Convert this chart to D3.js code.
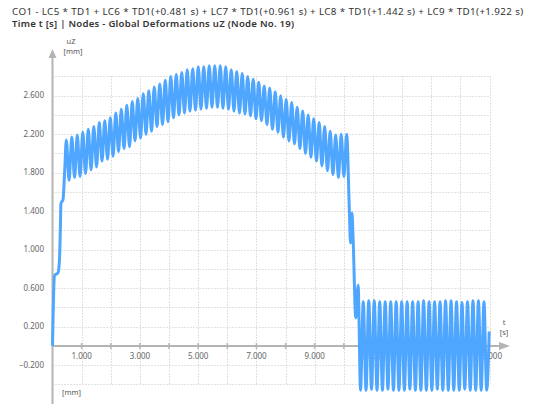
<!DOCTYPE html>
<html>
<head>
<meta charset="utf-8">
<script src="https://cdn.jsdelivr.net/npm/d3@7"></script>
<style>
  body { margin: 0; background: #fff; }
  svg { display: block; font-family: "Noto Sans", sans-serif; }
</style>
</head>
<body>
<div id="chart"></div>
<script>
const width = 533;
const height = 404;

const titleLines = [
  "CO1 - LC5 * TD1 + LC6 * TD1(+0.481 s) + LC7 * TD1(+0.961 s) + LC8 * TD1(+1.442 s) + LC9 * TD1(+1.922 s)",
  "Time t [s] | Nodes - Global Deformations uZ (Node No. 19)"
];

// tick labels and grid positions
const xTickLabels = [1, 3, 5, 7, 9, 11, 13, 15];
const yTickLabels = [-0.2, 0.2, 0.6, 1.0, 1.4, 1.8, 2.2, 2.6];
const xGrid = [1, 2, 3, 4, 5, 6, 7, 8, 9, 10, 11, 12, 13, 14, 15];
const yGrid = [-0.4, -0.2, 0.2, 0.4, 0.6, 0.8, 1.0, 1.2, 1.4, 1.6, 1.8, 2.0, 2.2, 2.4, 2.6, 2.8];

// series: [t (s), uZ (mm)]
const rise = [
  [0.000, 0.00], [0.07, 0.73], [0.19, 0.76], [0.24, 0.90], [0.27, 1.22],
  [0.29, 1.48], [0.36, 1.52], [0.42, 1.83]
];

const swing1 = [
  [0.474, 2.14], [0.568, 1.72], [0.663, 2.17], [0.757, 1.75], [0.851, 2.19], [0.945, 1.76],
  [1.040, 2.22], [1.134, 1.79], [1.229, 2.25], [1.323, 1.83], [1.418, 2.28], [1.512, 1.86],
  [1.606, 2.32], [1.700, 1.92], [1.795, 2.34], [1.889, 1.94], [1.984, 2.37], [2.078, 1.97],
  [2.172, 2.42], [2.266, 2.02], [2.361, 2.46], [2.455, 2.05], [2.550, 2.50], [2.644, 2.07],
  [2.738, 2.54], [2.832, 2.13], [2.927, 2.57], [3.021, 2.16], [3.116, 2.62], [3.210, 2.20],
  [3.305, 2.65], [3.399, 2.23], [3.493, 2.69], [3.587, 2.28], [3.682, 2.72], [3.776, 2.30],
  [3.871, 2.76], [3.965, 2.33], [4.059, 2.80], [4.153, 2.37], [4.248, 2.82], [4.342, 2.40],
  [4.437, 2.84], [4.531, 2.42], [4.625, 2.87], [4.719, 2.44], [4.814, 2.88], [4.908, 2.45],
  [5.003, 2.90], [5.097, 2.46], [5.192, 2.90], [5.286, 2.47], [5.380, 2.91], [5.474, 2.48],
  [5.569, 2.91], [5.663, 2.48], [5.758, 2.91], [5.852, 2.47], [5.946, 2.90], [6.040, 2.46],
  [6.135, 2.87], [6.229, 2.44], [6.324, 2.85], [6.418, 2.42], [6.512, 2.83], [6.606, 2.41],
  [6.701, 2.80], [6.795, 2.39], [6.890, 2.77], [6.984, 2.36], [7.079, 2.74], [7.173, 2.34],
  [7.267, 2.70], [7.361, 2.30], [7.456, 2.68], [7.550, 2.25], [7.645, 2.64], [7.739, 2.22],
  [7.833, 2.60], [7.927, 2.17], [8.022, 2.56], [8.116, 2.13], [8.211, 2.53], [8.305, 2.10],
  [8.399, 2.48], [8.493, 2.05], [8.588, 2.44], [8.682, 2.00], [8.777, 2.40], [8.871, 1.96],
  [8.966, 2.36], [9.060, 1.92], [9.154, 2.32], [9.248, 1.87], [9.343, 2.28], [9.437, 1.82],
  [9.532, 2.23], [9.626, 1.78], [9.720, 2.19], [9.814, 1.75], [9.909, 2.20], [10.003, 1.76],
  [10.098, 2.20]
];

const drop = [
  [10.19, 1.40], [10.23, 1.07], [10.28, 1.38], [10.32, 1.10], [10.41, 0.29], [10.49, 0.63]
];

const swing2 = [
  [10.573, -0.46],
  [10.667, 0.46], [10.761, -0.46], [10.855, 0.47], [10.949, -0.45], [11.044, 0.47], [11.138, -0.46],
  [11.232, 0.46], [11.326, -0.46], [11.420, 0.46], [11.514, -0.45], [11.609, 0.46], [11.703, -0.46],
  [11.797, 0.46], [11.891, -0.46], [11.985, 0.46], [12.079, -0.46], [12.173, 0.46], [12.267, -0.45],
  [12.362, 0.46], [12.456, -0.46], [12.550, 0.46], [12.644, -0.46], [12.738, 0.47], [12.832, -0.46],
  [12.927, 0.46], [13.021, -0.46], [13.115, 0.46], [13.209, -0.45], [13.303, 0.46], [13.397, -0.46],
  [13.492, 0.47], [13.586, -0.46], [13.680, 0.47], [13.774, -0.46], [13.868, 0.46], [13.962, -0.46],
  [14.056, 0.45], [14.150, -0.45], [14.245, 0.46], [14.339, -0.46], [14.433, 0.47], [14.527, -0.46],
  [14.621, 0.47], [14.715, -0.46], [14.810, 0.46], [14.904, -0.46],
  [14.990, 0.15]
];

const series = rise.concat(swing1, drop, swing2);

const x = d3.scaleLinear().domain([0, 15]).range([52.5, 489.5]);
const y = d3.scaleLinear().domain([-0.4, 2.8]).range([384.4, 76.4]);

const svg = d3.select("#chart")
  .append("svg")
  .attr("width", width)
  .attr("height", height);

// title
svg.append("g")
  .selectAll("text")
  .data(titleLines)
  .enter()
  .append("text")
  .attr("x", 12)
  .attr("y", (d, i) => 15 + i * 12)
  .attr("font-size", (d, i) => i === 0 ? 9.8 : 9.6)
  .attr("letter-spacing", (d, i) => i === 0 ? 0.38 : 0.25)
  .attr("font-weight", (d, i) => i === 1 ? 600 : 400)
  .attr("fill", "#333")
  .text(d => d);

// grid
const grid = svg.append("g")
  .attr("stroke", "#c4c4c4")
  .attr("stroke-width", 1)
  .attr("stroke-dasharray", "1,2");

grid.selectAll(".hgrid")
  .data(yGrid)
  .enter()
  .append("line")
  .attr("x1", x(0))
  .attr("x2", x(15))
  .attr("y1", d => Math.round(y(d)) + 0.5)
  .attr("y2", d => Math.round(y(d)) + 0.5);

grid.selectAll(".vgrid")
  .data(xGrid)
  .enter()
  .append("line")
  .attr("x1", d => Math.round(x(d)) + 0.5)
  .attr("x2", d => Math.round(x(d)) + 0.5)
  .attr("y1", y(2.8))
  .attr("y2", y(-0.4));

// axes
const axisColor = "#b4b4b4";
const x0 = x(0), y0 = y(0);

svg.append("line")
  .attr("x1", x0).attr("x2", 503)
  .attr("y1", y0).attr("y2", y0)
  .attr("stroke", axisColor).attr("stroke-width", 2);

svg.append("path")
  .attr("d", `M510,${y0} L499,${y0 - 4} L499,${y0 + 4} Z`)
  .attr("fill", axisColor);

svg.append("line")
  .attr("x1", x0).attr("x2", x0)
  .attr("y1", 404).attr("y2", 56)
  .attr("stroke", axisColor).attr("stroke-width", 2);

svg.append("path")
  .attr("d", `M${x0},49 L${x0 - 4},58 L${x0 + 4},58 Z`)
  .attr("fill", axisColor);

svg.append("g")
  .selectAll("line")
  .data(xGrid)
  .enter()
  .append("line")
  .attr("x1", d => x(d)).attr("x2", d => x(d))
  .attr("y1", y0 - 3).attr("y2", y0 + 3)
  .attr("stroke", axisColor).attr("stroke-width", 1.5);

// tick labels
const fmt = d3.format(".3f");
const labelColor = "#666";

svg.append("g")
  .selectAll("text")
  .data(xTickLabels)
  .enter()
  .append("text")
  .attr("x", d => x(d))
  .attr("y", y0 + 13)
  .attr("text-anchor", "middle")
  .attr("font-size", 8)
  .attr("fill", labelColor)
  .text(d => fmt(d));

svg.append("g")
  .selectAll("text")
  .data(yTickLabels)
  .enter()
  .append("text")
  .attr("x", 44)
  .attr("y", d => y(d))
  .attr("dy", "0.33em")
  .attr("text-anchor", "end")
  .attr("font-size", 8)
  .attr("fill", labelColor)
  .text(d => fmt(d));

// axis titles
const axisTitles = svg.append("g")
  .attr("font-size", 7.5)
  .attr("fill", "#555");

axisTitles.append("text").attr("x", 71).attr("y", 44).attr("text-anchor", "middle").text("uZ");
axisTitles.append("text").attr("x", 73).attr("y", 54).attr("text-anchor", "middle").text("[mm]");
axisTitles.append("text").attr("x", 504).attr("y", 325).attr("text-anchor", "middle").text("t");
axisTitles.append("text").attr("x", 504).attr("y", 335).attr("text-anchor", "middle").text("[s]");
axisTitles.append("text").attr("x", 62).attr("y", 395).text("[mm]");

// the deformation curve
const line = d3.line()
  .x(d => x(d[0]))
  .y(d => y(d[1]))
  .curve(d3.curveMonotoneX);

svg.append("path")
  .datum(series)
  .attr("fill", "none")
  .attr("stroke", "#4fa6ff")
  .attr("stroke-width", 3)
  .attr("stroke-linejoin", "round")
  .attr("d", line);
</script>
</body>
</html>
